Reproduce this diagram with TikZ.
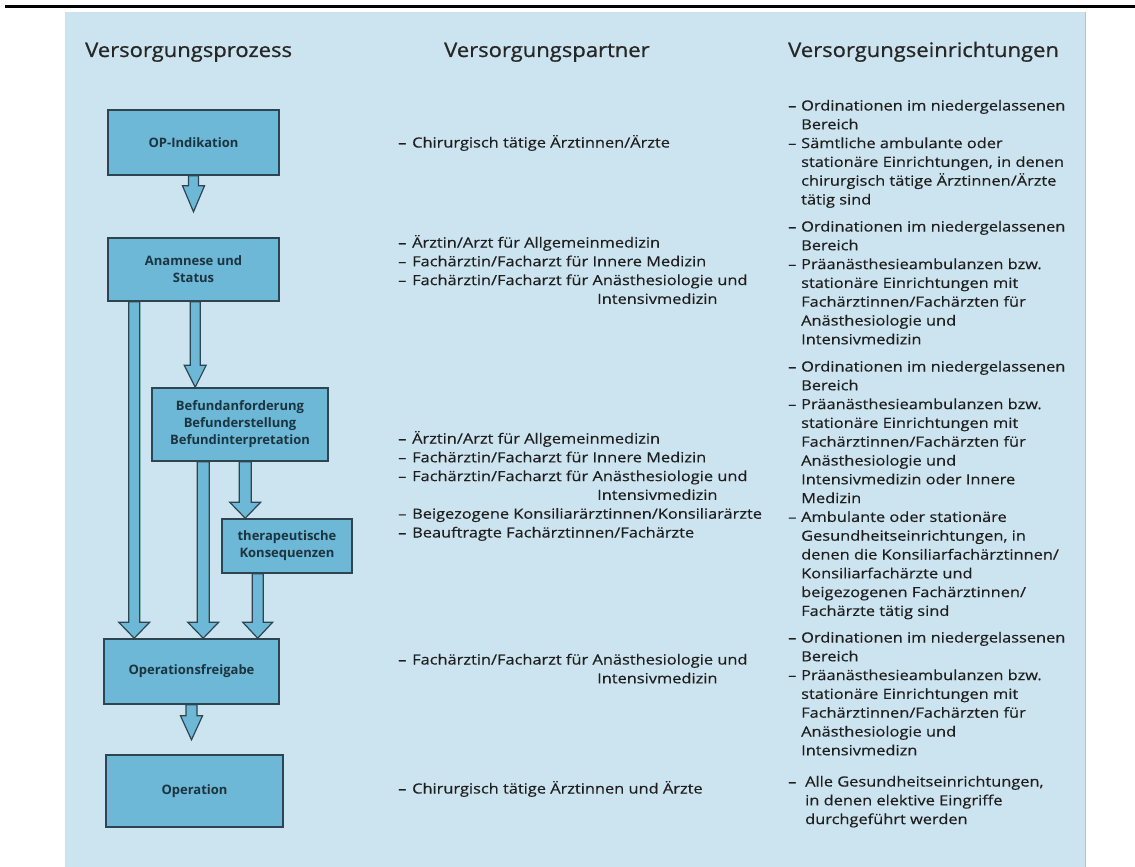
\documentclass[tikz,border=0pt]{standalone}
\usepackage{fontspec}
\setmainfont{Open Sans}
\usetikzlibrary{calc}
\definecolor{bg}{HTML}{CCE4EF}
\definecolor{boxfill}{HTML}{6CB8D6}
\definecolor{boxline}{HTML}{2E4550}
\definecolor{txt}{HTML}{1E1E1E}
\definecolor{boxtxt}{HTML}{1C3440}
\newcommand\blockarrow[5]{%
  \draw[blockarr] let \p1=(#1), \p2=(#2) in
    (\x1-#3pt,\y1) -- (\x1-#3pt,\y2+#5pt) -- (\x1-#4pt,\y2+#5pt) -- (\x1,\y2)
    -- (\x1+#4pt,\y2+#5pt) -- (\x1+#3pt,\y2+#5pt) -- (\x1+#3pt,\y1) -- cycle;}
\newcommand\mylist[2]{\begin{tabular}[t]{@{}p{#1}@{}l@{}}#2\end{tabular}}
\begin{document}
\begin{tikzpicture}[x=1pt,y=-1pt,
  procbox/.style={draw=boxline, line width=1.6pt, fill=boxfill, align=center,
     text=boxtxt, font=\bfseries\fontsize{13}{17}\selectfont, inner sep=0pt},
  blockarr/.style={draw=boxline, line width=1.2pt, fill=boxfill, line join=miter},
  heading/.style={font=\fontsize{20}{24}\selectfont\addfontfeatures{FakeStretch=1.1,FakeBold=0.8},
     text=black!85, inner sep=0pt, anchor=base west},
  listtxt/.style={font=\fontsize{14}{18.8}\selectfont\addfontfeatures{FakeStretch=1.17,FakeBold=0.4},
     text=txt, inner sep=0pt, anchor=base west}]
\useasboundingbox (0,0) rectangle (1135,867);
\fill[white] (0,0) rectangle (1135,867);
\fill[bg] (65,12) rectangle (1085,867);
\draw[black!25, line width=0.8pt] (1085,12) -- (1085,867);
\fill[black] (5,4.8) rectangle (1135,8.2);

% headings
\node[heading] (h1) at (85,57) {Versorgungsprozess};
\node[heading] (h2) at (444,57) {Versorgungspartner};
\node[heading] (h3) at (788,57) {Versorgungseinrichtungen};

% process boxes
\node[procbox, minimum width=171, minimum height=65] (op) at (193.5,142.5) {OP-Indikation};
\node[procbox, minimum width=171, minimum height=63] (an) at (193.5,269.5) {Anamnese und\\Status};
\node[procbox, minimum width=176, minimum height=73] (bf) at (240,424.5) {Befundanforderung\\Befunderstellung\\Befundinterpretation};
\node[procbox, minimum width=130, minimum height=54] (tk) at (287,546) {therapeutische\\Konsequenzen};
\node[procbox, minimum width=175, minimum height=65] (fg) at (191.5,671.5) {Operationsfreigabe};
\node[procbox, minimum width=177, minimum height=72] (opn) at (194.5,791) {Operation};

% arrow coordinates
\coordinate (a1t) at ($(op.south)+(0,36)$);
\coordinate (a2s) at ($(an.south west)+(88,0)$);
\coordinate (a2t) at (a2s |- bf.north);
\coordinate (a3s) at ($(an.south west)+(27,0)$);
\coordinate (a3t) at (a3s |- fg.north);
\coordinate (a4s) at ($(bf.south west)+(52,0)$);
\coordinate (a4t) at (a4s |- fg.north);
\coordinate (a5s) at ($(bf.south west)+(94,0)$);
\coordinate (a5t) at (a5s |- tk.north);
\coordinate (a6s) at ($(tk.south west)+(36.5,0)$);
\coordinate (a6t) at (a6s |- fg.north);
\coordinate (a7t) at ($(fg.south)+(0,35)$);

\blockarrow{op.south}{a1t}{5}{11}{26}
\blockarrow{a2s}{a2t}{5}{11}{22}
\blockarrow{a3s}{a3t}{5.5}{15.5}{16}
\blockarrow{a4s}{a4t}{6}{15.5}{16}
\blockarrow{a5s}{a5t}{6}{15.5}{16}
\blockarrow{a6s}{a6t}{5.5}{15}{16}
\blockarrow{fg.south}{a7t}{5.5}{11}{24}

% middle column
\node[listtxt] (m1) at (398,147.5) {\mylist{14pt}{–&Chirurgisch tätige Ärztinnen/Ärzte}};
\node[listtxt] (m2) at (398,247.5) {\mylist{14pt}{–&Ärztin/Arzt für Allgemeinmedizin\\
–&Fachärztin/Facharzt für Innere Medizin\\
–&Fachärztin/Facharzt für Anästhesiologie und\\
&\hspace{185pt}Intensivmedizin}};
\node[listtxt] (m3) at (398,443.5) {\mylist{14pt}{–&Ärztin/Arzt für Allgemeinmedizin\\
–&Fachärztin/Facharzt für Innere Medizin\\
–&Fachärztin/Facharzt für Anästhesiologie und\\
&\hspace{185pt}Intensivmedizin\\
–&Beigezogene Konsiliarärztinnen/Konsiliarärzte\\
–&Beauftragte Fachärztinnen/Fachärzte}};
\node[listtxt] (m4) at (398,664.5) {\mylist{14pt}{–&Fachärztin/Facharzt für Anästhesiologie und\\
&\hspace{185pt}Intensivmedizin}};
\node[listtxt] (m5) at (398,793.5) {\mylist{14pt}{–&Chirurgisch tätige Ärztinnen und Ärzte}};

% right column
\node[listtxt] (r1) at (788,110.5) {\mylist{13pt}{–&Ordinationen im niedergelassenen\\
&Bereich\\
–&Sämtliche ambulante oder\\
&stationäre Einrichtungen, in denen\\
&chirurgisch tätige Ärztinnen/Ärzte\\
&tätig sind}};
\node[listtxt] (r2) at (788,231.5) {\mylist{13pt}{–&Ordinationen im niedergelassenen\\
&Bereich\\
–&Präanästhesieambulanzen bzw.\\
&stationäre Einrichtungen mit\\
&Fachärztinnen/Fachärzten für\\
&Anästhesiologie und\\
&Intensivmedizin}};
\node[listtxt] (r3) at (788,371.5) {\mylist{13pt}{–&Ordinationen im niedergelassenen\\
&Bereich\\
–&Präanästhesieambulanzen bzw.\\
&stationäre Einrichtungen mit\\
&Fachärztinnen/Fachärzten für\\
&Anästhesiologie und\\
&Intensivmedizin oder Innere\\
&Medizin\\
–&Ambulante oder stationäre\\
&Gesundheitseinrichtungen, in\\
&denen die Konsiliarfachärztinnen/\\
&Konsiliarfachärzte und\\
&beigezogenen Fachärztinnen/\\
&Fachärzte tätig sind}};
\node[listtxt] (r4) at (788,642.5) {\mylist{13pt}{–&Ordinationen im niedergelassenen\\
&Bereich\\
–&Präanästhesieambulanzen bzw.\\
&stationäre Einrichtungen mit\\
&Fachärztinnen/Fachärzten für\\
&Anästhesiologie und\\
&Intensivmedizn}};
\node[listtxt] (r5) at (788,786.5) {\mylist{17pt}{–&Alle Gesundheitseinrichtungen,\\
&in denen elektive Eingriffe\\
&durchgeführt werden}};
\end{tikzpicture}
\end{document}
